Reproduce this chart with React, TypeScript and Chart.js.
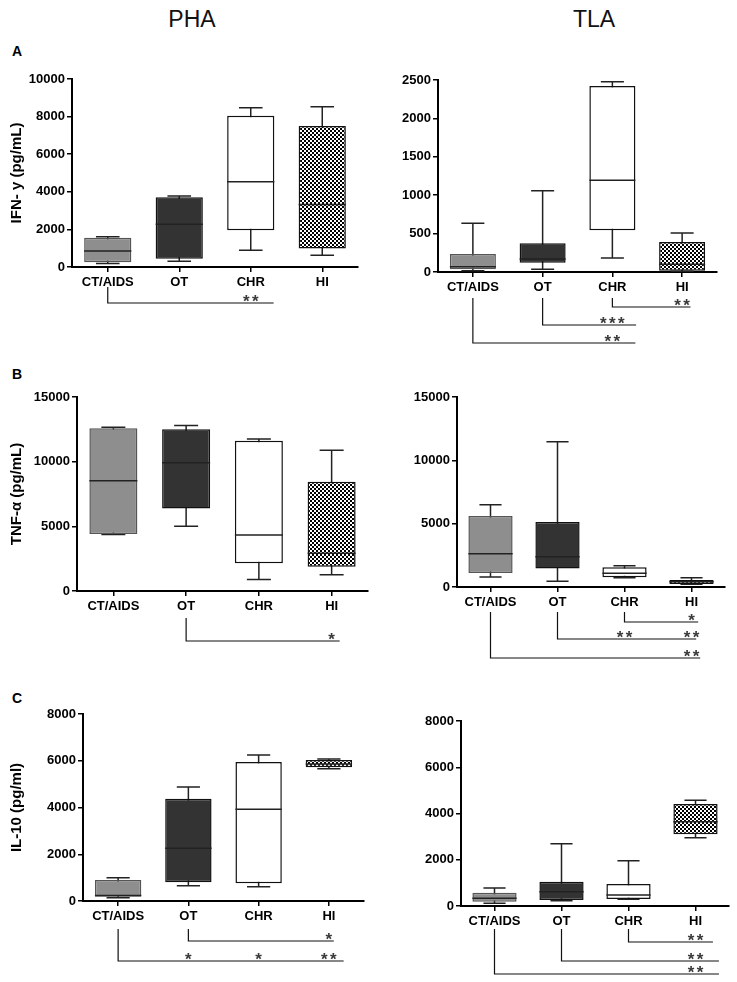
import React, { useEffect, useRef } from 'react';
import { Chart, registerables } from 'chart.js';

Chart.register(...registerables);
Chart.defaults.font.family = '"Liberation Sans", Arial, sans-serif';

const categories = ['CT/AIDS', 'OT', 'CHR', 'HI'];

// five-number summaries per group: [min, q1, median, q3, max]
const ifnPha = [
  [190, 250, 850, 1560, 1610],
  [300, 440, 2270, 3710, 3780],
  [890, 1950, 4530, 8050, 8470],
  [620, 980, 3330, 7500, 8520],
];
const ifnTla = [
  [15, 35, 69, 234, 634],
  [35, 121, 170, 373, 1057],
  [183, 543, 1196, 2422, 2478],
  [10, 15, 100, 391, 509],
];
const tnfPha = [
  [4360, 4410, 8530, 12580, 12660],
  [5000, 6370, 9920, 12500, 12790],
  [880, 2140, 4330, 11620, 11760],
  [1260, 1880, 2910, 8450, 10880],
];
const tnfTla = [
  [790, 1100, 2630, 5600, 6500],
  [450, 1470, 2390, 5130, 11470],
  [740, 770, 1080, 1550, 1680],
  [210, 240, 420, 550, 740],
];
const il10Pha = [
  [143, 185, 240, 898, 998],
  [656, 798, 2253, 4378, 4877],
  [613, 755, 3922, 5947, 6246],
  [5660, 5718, 5860, 6032, 6075],
];
const il10Tla = [
  [115, 188, 332, 577, 778],
  [230, 260, 620, 1052, 2695],
  [288, 303, 476, 951, 1960],
  [2955, 3099, 3646, 4410, 4569],
];

// significance brackets: from group, line end (category units), stars at groups
type Bracket = { from: number; to: number; stars: [number, string][] };
const sigIfnPha: Bracket[] = [{ from: 0, to: 2.32, stars: [[2, '**']] }];
const sigIfnTla: Bracket[] = [
  { from: 2, to: 3.12, stars: [[3, '**']] },
  { from: 1, to: 2.34, stars: [[2, '***']] },
  { from: 0, to: 2.33, stars: [[2, '**']] },
];
const sigTnfPha: Bracket[] = [{ from: 1, to: 3.11, stars: [[3, '*']] }];
const sigTnfTla: Bracket[] = [
  { from: 2, to: 3.1, stars: [[3, '*']] },
  { from: 1, to: 3.07, stars: [[2, '**'], [3, '**']] },
  { from: 0, to: 3.13, stars: [[3, '**']] },
];
const sigIl10Pha: Bracket[] = [
  { from: 1, to: 3.07, stars: [[3, '*']] },
  { from: 0, to: 3.21, stars: [[1, '*'], [2, '*'], [3, '**']] },
];
const sigIl10Tla: Bracket[] = [
  { from: 2, to: 3.26, stars: [[3, '**']] },
  { from: 1, to: 3.35, stars: [[3, '**']] },
  { from: 0, to: 3.35, stars: [[3, '**']] },
];

const FONT = '"Liberation Sans", Arial, sans-serif';

function checker() {
  const c = document.createElement('canvas');
  c.width = 4;
  c.height = 4;
  const g = c.getContext('2d')!;
  g.fillStyle = '#fff';
  g.fillRect(0, 0, 4, 4);
  g.fillStyle = '#000';
  g.fillRect(0, 0, 2, 2);
  g.fillRect(2, 2, 2, 2);
  return g.createPattern(c, 'repeat');
}

function boxPlugin(stats: number[][]) {
  const lines = (chart: any, fn: (ctx: CanvasRenderingContext2D, el: any, s: number[], y: (v: number) => number) => void) => {
    const ctx = chart.ctx;
    const meta = chart.getDatasetMeta(0);
    const y = (v: number) => chart.scales.y.getPixelForValue(v);
    ctx.save();
    ctx.strokeStyle = '#222';
    ctx.lineWidth = 1.5;
    meta.data.forEach((el: any, i: number) => fn(ctx, el, stats[i], y));
    ctx.restore();
  };
  return {
    id: 'boxWhiskers',
    beforeDatasetsDraw(chart: any) {
      lines(chart, (ctx, el, s, y) => {
        const half = el.width / 4;
        ctx.beginPath();
        ctx.moveTo(el.x, y(s[0]));
        ctx.lineTo(el.x, y(s[4]));
        ctx.moveTo(el.x - half, y(s[0]));
        ctx.lineTo(el.x + half, y(s[0]));
        ctx.moveTo(el.x - half, y(s[4]));
        ctx.lineTo(el.x + half, y(s[4]));
        ctx.stroke();
      });
    },
    afterDatasetsDraw(chart: any) {
      lines(chart, (ctx, el, s, y) => {
        ctx.beginPath();
        ctx.moveTo(el.x - el.width / 2, y(s[2]));
        ctx.lineTo(el.x + el.width / 2, y(s[2]));
        ctx.stroke();
      });
    },
  };
}

function bracketPlugin(brackets: Bracket[], start: number, levels: number[]) {
  return {
    id: 'brackets',
    afterDraw(chart: any) {
      const ctx = chart.ctx;
      const xs = chart.scales.x;
      const bottom = chart.chartArea.bottom;
      ctx.save();
      ctx.strokeStyle = '#111';
      ctx.lineWidth = 1.2;
      ctx.fillStyle = '#3a3a3a';
      ctx.font = `bold 17px ${FONT}`;
      ctx.textAlign = 'center';
      ctx.textBaseline = 'alphabetic';
      brackets.forEach((b, i) => {
        const x0 = xs.getPixelForValue(b.from);
        const x1 = xs.getPixelForValue(b.to);
        const ly = bottom + levels[i];
        ctx.beginPath();
        ctx.moveTo(x0, bottom + start);
        ctx.lineTo(x0, ly);
        ctx.lineTo(x1, ly);
        ctx.stroke();
        b.stars.forEach(([c, txt]) => {
          const cx = xs.getPixelForValue(c);
          const n = txt.length;
          for (let k = 0; k < n; k++) {
            ctx.fillText('*', cx + (k - (n - 1) / 2) * 9, ly - 6 + 10);
          }
        });
      });
      ctx.restore();
    },
  };
}

type Rect = { x: number; y: number; w: number; h: number };
type Area = { left: number; top: number; right: number; bottom: number };

function BoxPanel(props: {
  stats: number[][];
  brackets: Bracket[];
  rect: Rect;
  area: Area;
  yMax: number;
  yStep: number;
  yTitle?: string;
  start: number;
  levels: number[];
}) {
  const ref = useRef<HTMLCanvasElement>(null);
  const { stats, brackets, rect, area, yMax, yStep, yTitle, start, levels } = props;
  useEffect(() => {
    if (!ref.current) return;
    const fills: any[] = ['#8e8e8e', '#333333', '#ffffff', checker()];
    const tickFont = { weight: 'bold' as const, size: 13, family: FONT };
    const chart = new Chart(ref.current, {
      type: 'bar',
      data: {
        labels: categories,
        datasets: [
          {
            data: stats.map((s) => [s[1], s[3]]) as any,
            backgroundColor: fills,
            borderColor: ['#555', '#111', '#111', '#111'],
            borderWidth: 1.5,
            borderSkipped: false,
            barPercentage: 0.66,
            categoryPercentage: 1,
          },
        ],
      },
      options: {
        responsive: false,
        animation: false,
        layout: {
          padding: { left: 0, top: area.top - rect.y, right: rect.x + rect.w - area.right, bottom: 0 },
        },
        plugins: { legend: { display: false }, tooltip: { enabled: false } },
        scales: {
          x: {
            grid: { drawOnChartArea: false, offset: false, tickLength: 5, color: '#000', lineWidth: 1.5 },
            border: { color: '#000', width: 2 },
            ticks: { color: '#000', font: tickFont, padding: 3, maxRotation: 0, autoSkip: false },
            afterFit: (s: any) => {
              s.height = rect.y + rect.h - area.bottom;
            },
          },
          y: {
            min: 0,
            max: yMax,
            grid: { drawOnChartArea: false, tickLength: 5, color: '#000', lineWidth: 1.5 },
            border: { color: '#000', width: 2 },
            ticks: { stepSize: yStep, color: '#000', font: tickFont, padding: 2, callback: (v: any) => String(v) },
            title: {
              display: !!yTitle,
              text: yTitle || '',
              color: '#000',
              font: { weight: 'bold', size: 15, family: FONT },
              padding: { top: 8, bottom: 0 },
            },
            afterFit: (s: any) => {
              s.width = area.left - rect.x;
            },
          },
        },
      },
      plugins: [boxPlugin(stats), bracketPlugin(brackets, start, levels)],
    });
    return () => chart.destroy();
  }, []);
  return (
    <canvas
      ref={ref}
      width={rect.w}
      height={rect.h}
      style={{ position: 'absolute', left: rect.x, top: rect.y, width: rect.w, height: rect.h }}
    />
  );
}

const textBase: React.CSSProperties = { position: 'absolute', fontFamily: FONT, color: '#111', lineHeight: 1 };

export default function App() {
  return (
    <div style={{ position: 'absolute', left: 0, top: 0, width: 737, height: 982, background: '#fff', overflow: 'hidden' }}>
      <div style={{ ...textBase, left: 142, top: 8, width: 100, textAlign: 'center', fontSize: 23 }}>PHA</div>
      <div style={{ ...textBase, left: 544, top: 8, width: 100, textAlign: 'center', fontSize: 23 }}>TLA</div>
      <div style={{ ...textBase, left: 12, top: 44, fontSize: 14, fontWeight: 'bold', color: '#000' }}>A</div>
      <div style={{ ...textBase, left: 12, top: 367, fontSize: 14, fontWeight: 'bold', color: '#000' }}>B</div>
      <div style={{ ...textBase, left: 12, top: 691, fontSize: 14, fontWeight: 'bold', color: '#000' }}>C</div>

      <BoxPanel
        stats={ifnPha}
        brackets={sigIfnPha}
        rect={{ x: 0, y: 40, w: 370, h: 315 }}
        area={{ left: 72, top: 79, right: 358, bottom: 267 }}
        yMax={10000}
        yStep={2000}
        yTitle="IFN- y (pg/mL)"
        start={20}
        levels={[36]}
      />
      <BoxPanel
        stats={ifnTla}
        brackets={sigIfnTla}
        rect={{ x: 370, y: 40, w: 367, h: 315 }}
        area={{ left: 438, top: 80, right: 717, bottom: 272 }}
        yMax={2500}
        yStep={500}
        start={26}
        levels={[35, 53, 71]}
      />
      <BoxPanel
        stats={tnfPha}
        brackets={sigTnfPha}
        rect={{ x: 0, y: 370, w: 370, h: 300 }}
        area={{ left: 77, top: 397, right: 368, bottom: 591 }}
        yMax={15000}
        yStep={5000}
        yTitle="TNF-α (pg/mL)"
        start={27}
        levels={[50]}
      />
      <BoxPanel
        stats={tnfTla}
        brackets={sigTnfTla}
        rect={{ x: 370, y: 370, w: 367, h: 300 }}
        area={{ left: 457, top: 397, right: 725, bottom: 587 }}
        yMax={15000}
        yStep={5000}
        start={25}
        levels={[35, 52, 71]}
      />
      <BoxPanel
        stats={il10Pha}
        brackets={sigIl10Pha}
        rect={{ x: 0, y: 690, w: 370, h: 292 }}
        area={{ left: 83, top: 714, right: 364, bottom: 901 }}
        yMax={8000}
        yStep={2000}
        yTitle="IL-10 (pg/ml)"
        start={28}
        levels={[40, 60]}
      />
      <BoxPanel
        stats={il10Tla}
        brackets={sigIl10Tla}
        rect={{ x: 370, y: 690, w: 367, h: 292 }}
        area={{ left: 461, top: 721, right: 729, bottom: 906 }}
        yMax={8000}
        yStep={2000}
        start={23}
        levels={[36, 55, 68]}
      />
    </div>
  );
}
